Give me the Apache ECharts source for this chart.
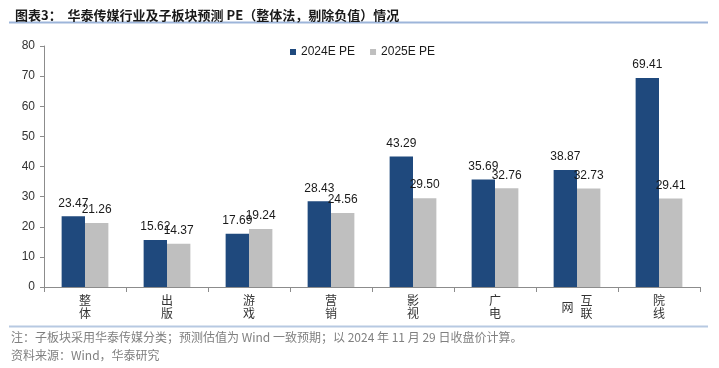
<!DOCTYPE html>
<html>
<head>
<meta charset="utf-8">
<script src="https://cdn.jsdelivr.net/npm/echarts@6/dist/echarts.min.js"></script>
<style>
html,body{margin:0;padding:0;background:#fff;}
#c{width:719px;height:368px;}
</style>
</head>
<body>
<div id="c"></div>
<script>
const titleText = '图表3：  华泰传媒行业及子板块预测 PE（整体法，剔除负值）情况';
const noteText = '注：子板块采用华泰传媒分类；预测估值为 Wind 一致预期；以 2024 年 11 月 29 日收盘价计算。';
const sourceText = '资料来源：Wind，华泰研究';
const categories = ['整体', '出版', '游戏', '营销', '影视', '广电', '互联网', '院线'];
const seriesNames = ['2024E PE', '2025E PE'];
const pe2024 = [23.47, 15.62, 17.69, 28.43, 43.29, 35.69, 38.87, 69.41];
const pe2025 = [21.26, 14.37, 19.24, 24.56, 29.50, 32.76, 32.73, 29.41];
const yTicks = [0, 10, 20, 30, 40, 50, 60, 70, 80];

const SANS = 'Liberation Sans, Arial, sans-serif';
const CJK = '"Noto Sans CJK SC", sans-serif';

const chart = echarts.init(document.getElementById('c'), null, {renderer: 'canvas'});

// main category label: stacked characters; for 3-char names the last char is drawn by a 2nd axis
function catLabel(v) {
  if (v.length === 3) {
    return '{h|' + v[2] + '}{c|' + v[0] + '}\n{h|' + v[2] + '}{c|' + v[1] + '}';
  }
  return v.split('').map(ch => '{c|' + ch + '}').join('\n');
}
function sideLabel(v) {
  return v.length === 3 ? '{w|' + v[2] + '}' : '';
}

const labelStyle = {
  show: true, position: 'top', distance: 7,
  fontFamily: SANS, fontSize: 12, color: '#1a1a1a',
  formatter: p => p.value.toFixed(2)
};

chart.setOption({
  animation: false,
  backgroundColor: '#fff',
  title: {
    text: titleText, left: 10, top: 4,
    textStyle: {fontFamily: CJK, fontSize: 13, fontWeight: 'bold', color: '#1a1a1a'}
  },
  legend: {
    left: 285, top: 41, icon: 'rect', itemWidth: 6, itemHeight: 6, itemGap: 15,
    textStyle: {fontFamily: SANS, fontSize: 12, color: '#1a1a1a'},
    data: seriesNames
  },
  grid: {left: 44, right: 19, top: 46, bottom: 81},
  xAxis: [{
    type: 'category', data: categories,
    axisLine: {lineStyle: {color: '#8c8c8c', width: 1}},
    axisTick: {show: true, length: 5, lineStyle: {color: '#8c8c8c'}},
    axisLabel: {
      margin: 7, interval: 0, formatter: catLabel,
      rich: {
        c: {fontFamily: CJK, fontSize: 12, lineHeight: 13, color: '#333'},
        h: {fontFamily: CJK, fontSize: 12, lineHeight: 13, color: 'rgba(0,0,0,0)', padding: [0, 7, 0, 0]}
      }
    }
  }, {
    type: 'category', data: categories, position: 'bottom', gridIndex: 0,
    axisLine: {show: false}, axisTick: {show: false},
    axisLabel: {
      margin: 13.5, interval: 0, formatter: sideLabel,
      rich: {
        w: {fontFamily: CJK, fontSize: 12, lineHeight: 13, color: '#333', padding: [0, 19, 0, 0]}
      }
    }
  }],
  yAxis: {
    type: 'value', min: yTicks[0], max: yTicks[yTicks.length - 1], interval: yTicks[1] - yTicks[0],
    axisLine: {show: true, lineStyle: {color: '#8c8c8c', width: 1}},
    axisTick: {show: true, length: 4, lineStyle: {color: '#8c8c8c'}},
    splitLine: {show: false},
    axisLabel: {margin: 9, fontFamily: SANS, fontSize: 12, color: '#333'}
  },
  series: [
    {
      name: seriesNames[0], type: 'bar', data: pe2024, barGap: '0%', barCategoryGap: '43%',
      itemStyle: {color: '#1f497d'}, label: labelStyle
    },
    {
      name: seriesNames[1], type: 'bar', data: pe2025, barGap: '0%', barCategoryGap: '43%',
      itemStyle: {color: '#bfbfbf'}, label: labelStyle
    }
  ],
  graphic: [
    {type: 'line', shape: {x1: 9, y1: 22.5, x2: 708, y2: 22.5}, style: {stroke: '#9db5da', lineWidth: 2}},
    {type: 'line', shape: {x1: 9, y1: 326.5, x2: 708, y2: 326.5}, style: {stroke: '#b7c9e2', lineWidth: 2}},
    {type: 'text', left: 11, top: 331, style: {text: noteText, font: '12px "Noto Sans CJK SC", sans-serif', fill: '#808080'}},
    {type: 'text', left: 11, top: 349, style: {text: sourceText, font: '12px "Noto Sans CJK SC", sans-serif', fill: '#808080'}}
  ]
});
</script>
</body>
</html>
